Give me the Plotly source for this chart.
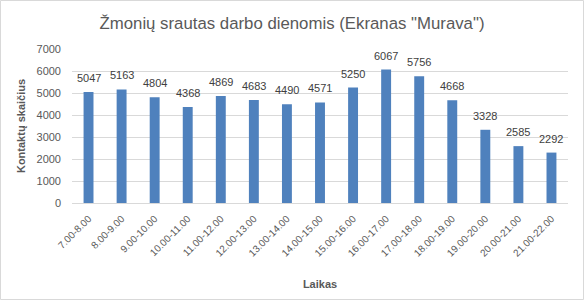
import plotly.graph_objects as go

categories = ["7.00-8.00", "8.00-9.00", "9.00-10.00", "10.00-11.00", "11.00-12.00",
              "12.00-13.00", "13.00-14.00", "14.00-15.00", "15.00-16.00", "16.00-17.00",
              "17.00-18.00", "18.00-19.00", "19.00-20.00", "20.00-21.00", "21.00-22.00"]
values = [5047, 5163, 4804, 4368, 4869, 4683, 4490, 4571, 5250, 6067, 5756, 4668, 3328, 2585, 2292]
y_ticks = [0, 1000, 2000, 3000, 4000, 5000, 6000, 7000]

W, H = 584, 300
L, R, T, B = 72, 16, 49, 97
pw, ph = W - L - R, H - T - B
FONT = "Liberation Sans, Arial"

fig = go.Figure(go.Bar(
    x=categories, y=values,
    marker=dict(color="#4F81BD", line=dict(width=0)),
    cliponaxis=False,
))

for c, v in zip(categories, values):
    fig.add_annotation(x=c, y=v, text=str(v), showarrow=False,
                       xanchor="center", yanchor="bottom", yshift=6,
                       font=dict(family=FONT, size=11, color="#404040"))

fig.update_layout(
    width=W, height=H,
    margin=dict(l=L, r=R, t=T, b=B),
    paper_bgcolor="white", plot_bgcolor="white",
    bargap=0.7,
    showlegend=False,
    title=dict(text='Žmonių srautas darbo dienomis (Ekranas "Murava")',
               x=0.5, xanchor="center", y=1 - 23 / H, yanchor="middle",
               font=dict(family=FONT, size=16.8, color="#595959")),
    xaxis=dict(tickangle=-45, tickfont=dict(family=FONT, size=10, color="#595959"),
               showline=True, linecolor="#D9D9D9", linewidth=1, ticks="",
               ticklabelstandoff=5,
               title=dict(text="<b>Laikas</b>", standoff=22,
                          font=dict(family=FONT, size=11, color="#595959"))),
    yaxis=dict(range=[0, 7000], tickvals=y_ticks, showgrid=True, gridcolor="#D9D9D9",
               zeroline=False, ticks="", ticklabelstandoff=10,
               tickfont=dict(family=FONT, size=11, color="#595959"),
               title=dict(text="<b>Kontaktų skaičius</b>", standoff=8,
                          font=dict(family=FONT, size=11, color="#595959"))),
    shapes=[dict(type="rect", xref="paper", yref="paper",
                 x0=(-L + 0.5) / pw, x1=(pw + R - 0.5) / pw,
                 y0=(-B + 0.5) / ph, y1=(ph + T - 0.5) / ph,
                 line=dict(color="#D9D9D9", width=1), fillcolor="rgba(0,0,0,0)", layer="below")],
)

fig.write_html("out.html")
